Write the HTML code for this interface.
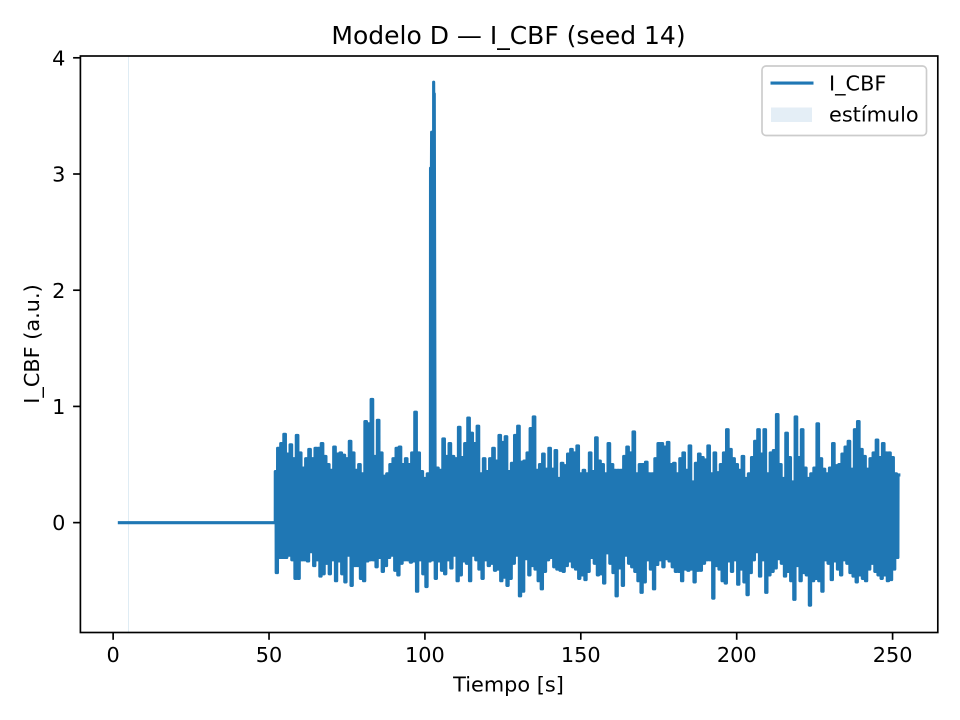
<!DOCTYPE html>
<html lang="es">
<head>
<meta charset="utf-8">
<title>Modelo D — I_CBF (seed 14)</title>
<style>
html,body{margin:0;padding:0;background:#fff;width:960px;height:720px;overflow:hidden}
svg{display:block}
text{font-family:"DejaVu Sans","Liberation Sans",sans-serif;fill:#000}
</style>
</head>
<body>
<svg id="chart" width="960" height="720" viewBox="0 0 960 720" xmlns="http://www.w3.org/2000/svg">
  <rect x="0" y="0" width="960" height="720" fill="#fff"/>
  <g id="stimulus-layer"></g>
  <g id="line-layer"></g>
  <rect x="80.4" y="56" width="857.4" height="576.5" fill="none" stroke="#000" stroke-width="1.67"/>
  <g id="x-ticks"></g>
  <g id="y-ticks"></g>
  <text x="508.5" y="44" text-anchor="middle" font-size="25">Modelo D — I_CBF (seed 14)</text>
  <text x="508.5" y="691.5" text-anchor="middle" font-size="20.83">Tiempo [s]</text>
  <text transform="translate(39,344) rotate(-90)" text-anchor="middle" font-size="20.83">I_CBF (a.u.)</text>
  <g>
    <rect x="762" y="66" width="164.5" height="69.5" rx="4" ry="4" fill="#fff" fill-opacity="0.8" stroke="#ccc" stroke-width="1.67"/>
    <line x1="770.5" y1="83" x2="813.5" y2="83" stroke="#1f77b4" stroke-width="3.125"/>
    <text x="829" y="90.5" font-size="20.83">I_CBF</text>
    <rect x="771" y="107.5" width="41" height="14.5" fill="#1f77b4" fill-opacity="0.12"/>
    <text x="829" y="121.5" font-size="20.83">estímulo</text>
  </g>
</svg>
<script>
const xTicks = [0, 50, 100, 150, 200, 250];
const yTicks = [0, 1, 2, 3, 4];
const xDomain = [-10.5, 264.5];
const yDomain = [-0.9455, 4.0155];
const stimulusStart = 5;
const stimulusEnd = 5.2;
const baselineTimes = [2, 52];
const baselineValues = [0, 0];
const noiseStart = 52;
const noiseStep = 1;
const upperValues = [
.44,.64,.68,.76,.59,.67,.55,.75,.6,.47,.55,.63,.55,.64,.64,.68,.57,.5,.45,.65,
.59,.6,.58,.55,.7,.6,.45,.5,.42,.87,.85,1.06,.57,.88,.6,.4,.42,.5,.55,.64,
.65,.5,.55,.5,.6,.95,.6,.44,.38,.42,.5,.5,.47,.45,.72,.57,.68,.57,.55,.82,
.56,.68,.9,.77,.68,.83,.42,.55,.44,.55,.64,.53,.75,.69,.74,.44,.51,.75,.83,.52,
.53,.6,.81,.91,.45,.5,.59,.46,.64,.46,.62,.38,.51,.49,.59,.63,.6,.66,.42,.45,
.42,.6,.44,.73,.53,.5,.42,.68,.5,.45,.45,.45,.57,.65,.6,.78,.42,.5,.5,.52,
.42,.42,.55,.68,.68,.65,.69,.5,.51,.42,.55,.6,.45,.66,.35,.51,.59,.56,.54,.66,
.42,.6,.43,.5,.6,.8,.63,.55,.5,.45,.57,.38,.42,.56,.7,.8,.59,.8,.42,.6,
.62,.93,.5,.38,.77,.56,.35,.91,.56,.8,.47,.38,.42,.47,.85,.55,.46,.42,.47,.68,
.49,.5,.59,.65,.7,.46,.8,.87,.63,.57,.46,.55,.6,.71,.56,.68,.6,.6,.56,.42,.41
];
const lowerValues = [
-.43,-.3,-.3,-.3,-.28,-.32,-.48,-.48,-.32,-.32,-.33,-.25,-.37,-.32,-.46,-.44,-.35,-.44,-.32,-.5,
-.33,-.44,-.51,-.28,-.54,-.37,-.37,-.48,-.5,-.33,-.32,-.32,-.38,-.3,-.42,-.37,-.3,-.28,-.41,-.45,
-.35,-.32,-.32,-.34,-.33,-.59,-.32,-.44,-.55,-.33,-.32,-.48,-.33,-.41,-.44,-.32,-.39,-.28,-.5,-.45,
-.33,-.35,-.5,-.28,-.32,-.4,-.48,-.32,-.37,-.35,-.41,-.4,-.5,-.47,-.54,-.48,-.35,-.28,-.63,-.59,
-.31,-.45,-.37,-.4,-.5,-.57,-.42,-.32,-.3,-.38,-.4,-.41,-.42,-.37,-.33,-.38,-.4,-.48,-.45,-.49,
-.42,-.3,-.35,-.45,-.44,-.52,-.26,-.35,-.43,-.63,-.39,-.54,-.28,-.35,-.38,-.42,-.5,-.6,-.51,-.32,
-.4,-.57,-.36,-.32,-.38,-.31,-.33,-.38,-.42,-.42,-.5,-.4,-.41,-.4,-.51,-.41,-.41,-.35,-.32,-.32,
-.65,-.37,-.4,-.5,-.52,-.33,-.42,-.32,-.53,-.4,-.51,-.62,-.43,-.32,-.25,-.46,-.32,-.6,-.45,-.42,
-.39,-.31,-.35,-.46,-.42,-.5,-.66,-.37,-.5,-.43,-.45,-.71,-.5,-.48,-.5,-.59,-.32,-.35,-.49,-.33,
-.4,-.45,-.32,-.35,-.43,-.46,-.51,-.45,-.48,-.5,-.4,-.35,-.42,-.45,-.48,-.45,-.5,-.49,-.4,-.3
];
const spikeTimes = [101.8, 101.95, 102.15, 102.4, 102.8, 102.9, 103.0, 103.3];
const spikeValues = [3.05, 2.2, 3.36, 2.9, 3.79, 3.2, 3.69, 0.3];

const SVG_NS = 'http://www.w3.org/2000/svg';
const plotLeft = 80.4, plotRight = 937.8, plotTop = 56, plotBottom = 632.5;
const upperHalfWidth = 0.25;
const lowerHalfWidth = 0.2;
function xScale(t) {
  return plotLeft + (t - xDomain[0]) / (xDomain[1] - xDomain[0]) * (plotRight - plotLeft);
}
function yScale(v) {
  return plotBottom - (v - yDomain[0]) / (yDomain[1] - yDomain[0]) * (plotBottom - plotTop);
}

const stimulusLayer = document.getElementById('stimulus-layer');
const stimulusRect = document.createElementNS(SVG_NS, 'rect');


stimulusRect.setAttribute('x', Math.floor(xScale(stimulusStart)));
stimulusRect.setAttribute('y', plotTop);
stimulusRect.setAttribute('width', Math.max(1, Math.round(xScale(stimulusEnd) - xScale(stimulusStart))));
stimulusRect.setAttribute('height', plotBottom - plotTop);
stimulusRect.setAttribute('fill', '#1f77b4');
stimulusRect.setAttribute('fill-opacity', '0.14');
stimulusLayer.appendChild(stimulusRect);

const points = [];
baselineTimes.forEach(function (t, i) { points.push([t, baselineValues[i]]); });
upperValues.forEach(function (v, i) {
  const t = noiseStart + i * noiseStep;
  const isFirst = i === 0;
  const isLast = i === upperValues.length - 1;
  points.push([isFirst ? t + 0.01 : t - upperHalfWidth, v]);
  points.push([isLast ? t : t + upperHalfWidth, v]);
});
lowerValues.forEach(function (v, i) {
  const t = noiseStart + (i + 0.5) * noiseStep;
  points.push([t - lowerHalfWidth, v]);
  points.push([t + lowerHalfWidth, v]);
});
spikeTimes.forEach(function (t, i) { points.push([t, spikeValues[i]]); });
points.sort(function (a, b) { return a[0] - b[0]; });

const lineData = points.map(function (p, i) {
  return (i ? 'L' : 'M') + xScale(p[0]).toFixed(2) + ' ' + yScale(p[1]).toFixed(2);
}).join('');
const seriesPath = document.createElementNS(SVG_NS, 'path');


seriesPath.setAttribute('d', lineData);
seriesPath.setAttribute('fill', 'none');
seriesPath.setAttribute('stroke', '#1f77b4');
seriesPath.setAttribute('stroke-width', '3.125');
seriesPath.setAttribute('stroke-linejoin', 'round');
seriesPath.setAttribute('stroke-linecap', 'square');
document.getElementById('line-layer').appendChild(seriesPath);

const xTickGroup = document.getElementById('x-ticks');
xTicks.forEach(function (t) {
  const mark = document.createElementNS(SVG_NS, 'line');
  
  
  mark.setAttribute('x1', xScale(t));
  mark.setAttribute('x2', xScale(t));
  mark.setAttribute('y1', plotBottom);
  mark.setAttribute('y2', plotBottom + 7.3);
  mark.setAttribute('stroke', '#000');
  mark.setAttribute('stroke-width', '1.67');
  xTickGroup.appendChild(mark);
  const label = document.createElementNS(SVG_NS, 'text');
  
  
  label.setAttribute('x', xScale(t));
  label.setAttribute('y', 662);
  label.setAttribute('text-anchor', 'middle');
  label.setAttribute('font-size', '20.83');
  label.textContent = String(t);
  xTickGroup.appendChild(label);
});

const yTickGroup = document.getElementById('y-ticks');
yTicks.forEach(function (v) {
  const mark = document.createElementNS(SVG_NS, 'line');
  
  
  mark.setAttribute('x1', plotLeft);
  mark.setAttribute('x2', plotLeft - 7.3);
  mark.setAttribute('y1', yScale(v));
  mark.setAttribute('y2', yScale(v));
  mark.setAttribute('stroke', '#000');
  mark.setAttribute('stroke-width', '1.67');
  yTickGroup.appendChild(mark);
  const label = document.createElementNS(SVG_NS, 'text');
  
  
  label.setAttribute('x', plotLeft - 15);
  label.setAttribute('y', yScale(v) + 7.6);
  label.setAttribute('text-anchor', 'end');
  label.setAttribute('font-size', '20.83');
  label.textContent = String(v);
  yTickGroup.appendChild(label);
});
</script>
</body>
</html>
